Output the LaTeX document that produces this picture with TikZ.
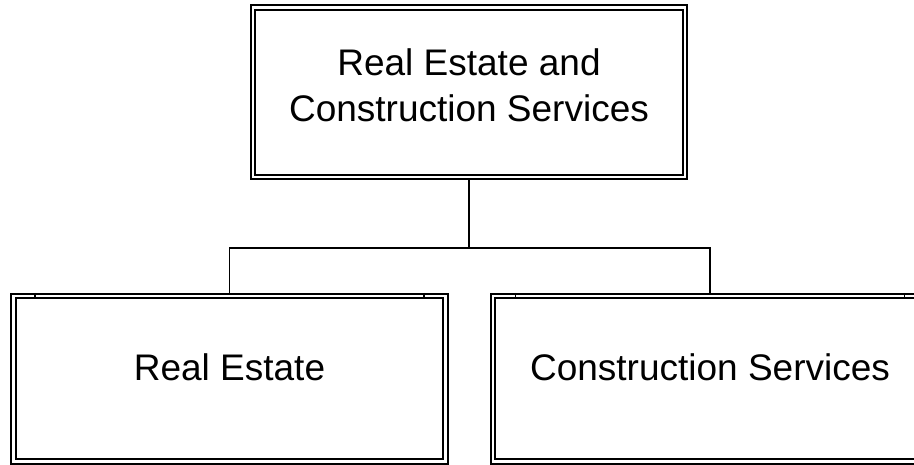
\documentclass[tikz,border=0pt]{standalone}
\usepackage{fontspec}
\setmainfont{Liberation Sans}
\begin{document}
\begin{tikzpicture}[x=1pt,y=1pt,
  dbox/.style={draw=black, line width=2pt, double=white, double distance=2.4pt,
    inner sep=0pt, outer sep=3.2pt, rectangle},
  lbl/.style={font=\fontsize{37}{46}\selectfont, align=center, inner sep=0pt},
  conn/.style={draw=black, line width=1.5pt},
  tickmark/.style={draw=black, line width=1.2pt}]
\useasboundingbox (0,0) rectangle (914,465);
\node[dbox, minimum width=432pt, minimum height=169.5pt] (T) at (469,372.75) {};
\node[dbox, minimum width=432pt, minimum height=165.5pt] (L) at (229.5,86.25) {};
\node[dbox, minimum width=434pt, minimum height=165.5pt] (R) at (710,86.25) {};
\node[lbl] (Tt) at (469,380) {Real Estate and\\Construction Services};
\node[lbl] (Lt) at (229.5,97.5) {Real Estate};
\node[lbl] (Rt) at (710,97.5) {Construction Services};
\coordinate (J) at (469,217);
\draw[conn] (T.south) -- (J);
\draw[conn] (L.north) -- (L.north |- J) -- (R.north |- J) -- (R.north);
\draw[tickmark] ([xshift=-194.5pt]L.north) -- ++(0,-6);
\draw[tickmark] ([xshift=194.5pt]L.north) -- ++(0,-6);
\draw[tickmark] ([xshift=-194.5pt]R.north) -- ++(0,-6);
\draw[tickmark] ([xshift=194.5pt]R.north) -- ++(0,-6);
\end{tikzpicture}
\end{document}
